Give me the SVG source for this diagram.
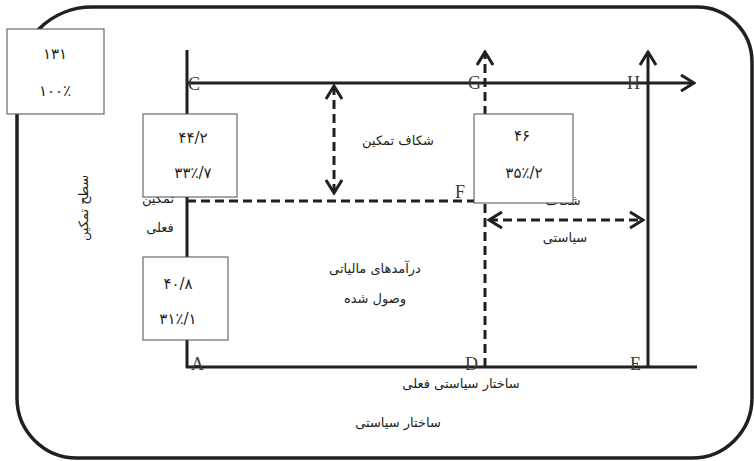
<svg xmlns="http://www.w3.org/2000/svg" width="754" height="461" viewBox="0 0 754 461">
<defs>
<style>
.ln{stroke:#231f20;stroke-width:3;fill:none}
.ds{stroke:#231f20;stroke-width:3;fill:none;stroke-dasharray:9 5}
.box{fill:#fff;stroke:#4d4d4d;stroke-width:1}
.fa{font-family:"DejaVu Sans","Noto Sans",sans-serif;font-size:13px;fill:#231f20;text-anchor:middle}
.num{font-family:"DejaVu Sans","Noto Sans",sans-serif;font-size:15px;letter-spacing:1.5px;fill:#231f20;text-anchor:middle;direction:ltr}
.lt{font-family:"Liberation Serif",serif;font-size:18px;fill:#3a3a3a}
</style>
<marker id="ah" viewBox="0 0 16 18" markerWidth="16" markerHeight="18" refX="14" refY="9" orient="auto-start-reverse" markerUnits="userSpaceOnUse">
<path d="M1,1 L14,9 L1,17" fill="none" stroke="#231f20" stroke-width="3"/>
</marker>
</defs>
<rect width="754" height="461" fill="#fff"/>
<path d="M 92 7 H 697 A 55 55 0 0 1 752 62 V 398 A 60 60 0 0 1 692 458 H 77 A 60 60 0 0 1 17 398 V 82 A 75 75 0 0 1 92 7 Z" fill="none" stroke="#231f20" stroke-width="3.5"/>
<g id="connectors">
<line class="ln" x1="187" y1="50" x2="187" y2="368"/>
<line class="ln" x1="186" y1="367" x2="697" y2="367"/>
<line class="ln" x1="187" y1="83" x2="694" y2="83" marker-end="url(#ah)"/>
<line class="ds" x1="485" y1="367" x2="485" y2="52" marker-end="url(#ah)"/>
<line class="ln" x1="648" y1="367" x2="648" y2="52" marker-end="url(#ah)"/>
<line class="ds" x1="187" y1="201" x2="485" y2="201"/>
<line class="ds" x1="334" y1="86" x2="334" y2="193" marker-start="url(#ah)" marker-end="url(#ah)"/>
<line class="ds" x1="489" y1="220" x2="643" y2="220" marker-start="url(#ah)" marker-end="url(#ah)"/>
</g>
<g id="point-labels">
<text class="lt" x="188" y="90">C</text>
<text class="lt" x="468" y="89">G</text>
<text class="lt" x="627" y="89">H</text>
<text class="lt" x="455" y="198">F</text>
<text class="lt" x="191" y="370">A</text>
<text class="lt" x="465" y="370">D</text>
<text class="lt" x="630" y="370">E</text>
</g>
<g id="labels">
<text class="fa" x="398" y="145">شکاف تمکین</text>
<text class="fa" x="375" y="273">درآمدهای مالیاتی</text>
<text class="fa" x="375" y="303">وصول شده</text>
<text class="fa" x="461" y="388">ساختار سیاستی فعلی</text>
<text class="fa" x="398" y="427">ساختار سیاستی</text>
<text class="fa" transform="translate(88,208) rotate(-90)">سطح تمکین</text>
<text class="fa" x="158" y="203">تمکین</text>
<text class="fa" x="160" y="232">فعلی</text>
<text class="fa" x="563" y="205">شکاف</text>
<text class="fa" x="565" y="242">سیاستی</text>
</g>
<g id="node-total">
<rect class="box" x="7" y="29" width="97" height="85"/>
<text class="num" x="55" y="59">۱۳۱</text>
<text class="num" x="55" y="96">۱۰۰٪</text>
</g>
<g id="node-current">
<rect class="box" x="143" y="114" width="94" height="83"/>
<text class="num" x="193" y="143">۴۴/۲</text>
<text class="num" x="193" y="178">۳۳٪/۷</text>
</g>
<g id="node-collected">
<rect class="box" x="143" y="257" width="85" height="83"/>
<text class="num" x="178" y="289">۴۰/۸</text>
<text class="num" x="178" y="324">۳۱٪/۱</text>
</g>
<g id="node-policy">
<rect class="box" x="474" y="114" width="99" height="89"/>
<text class="num" x="522" y="141">۴۶</text>
<text class="num" x="524" y="178">۳۵٪/۲</text>
</g>
</svg>
